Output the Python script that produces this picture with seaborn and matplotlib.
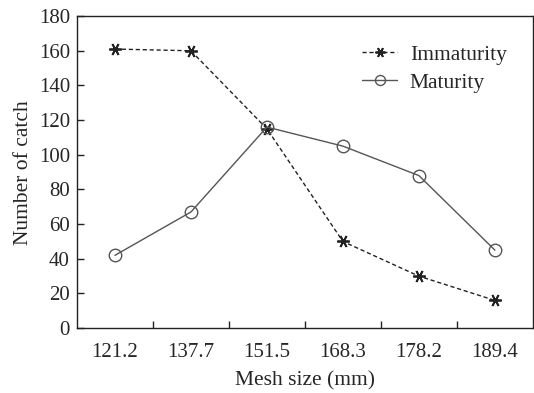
import matplotlib
matplotlib.use("Agg")
import matplotlib.pyplot as plt
import seaborn as sns
import pandas as pd
import numpy as np

mesh_sizes = ["121.2", "137.7", "151.5", "168.3", "178.2", "189.4"]
immaturity = [161, 160, 115, 50, 30, 16]
maturity = [42, 67, 116, 105, 88, 45]

sns.set_theme(style="ticks")
plt.rcParams['font.family'] = ['Liberation Serif', 'DejaVu Serif']

pos = list(range(len(mesh_sizes)))
df_imm = pd.DataFrame({"x": pos, "y": immaturity})
df_mat = pd.DataFrame({"x": pos, "y": maturity})

fig = plt.figure(figsize=(5.34, 3.93), dpi=100)
ax = fig.add_axes([0.144, 0.165, 0.854, 0.794])

sns.lineplot(data=df_imm, x="x", y="y", ax=ax, color="#222222", linestyle=(0, (3, 2)),
             linewidth=1.0, marker=(6, 2, 90), markersize=9, markeredgewidth=1.3,
             markeredgecolor="#222222", label="Immaturity")
sns.lineplot(data=df_mat, x="x", y="y", ax=ax, color="#555555", linewidth=1.0,
             marker="o", markersize=9, markerfacecolor="none", markeredgewidth=1.0,
             markeredgecolor="#555555", label="Maturity")

ax.set_xlim(-0.5, len(mesh_sizes) - 0.5)
ax.set_ylim(0, 180)
ax.set_yticks(np.arange(0, 181, 20))
ax.set_xticks(pos)
ax.set_xticklabels(mesh_sizes)
ax.tick_params(axis="x", which="major", length=0, labelsize=15, pad=11)
ax.set_xticks([p + 0.5 for p in pos[:-1]], minor=True)
ax.tick_params(axis="x", which="minor", direction="in", length=5, width=1, color="#222222")
ax.tick_params(axis="y", direction="in", length=5, width=1, labelsize=15, color="#222222", pad=5)
for s in ax.spines.values():
    s.set_color("#222222")
    s.set_linewidth(1.0)

ax.set_xlabel("Mesh size (mm)", fontsize=15.5, labelpad=6)
ax.set_ylabel("Number of catch", fontsize=15.5, labelpad=4)

leg = ax.legend(loc="upper right", frameon=False, fontsize=15.5, handlelength=1.6,
                handletextpad=0.6, labelspacing=0.35, markerscale=0.8,
                bbox_to_anchor=(0.985, 0.97))

fig.savefig("out.png", dpi=100)
